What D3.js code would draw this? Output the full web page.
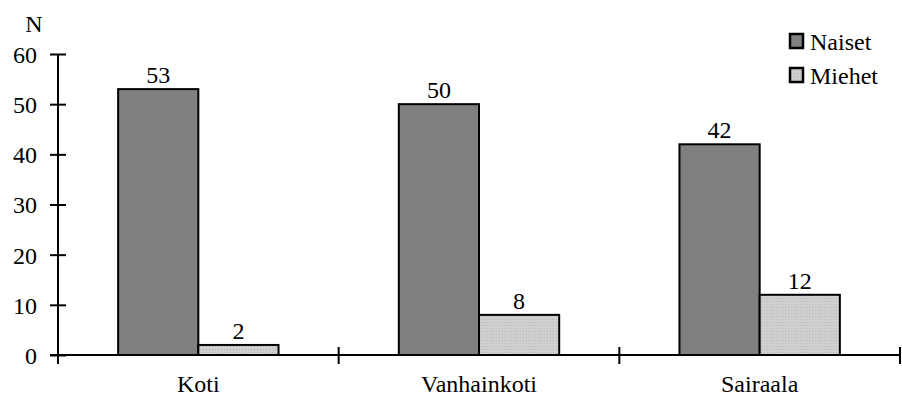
<!DOCTYPE html>
<html>
<head>
<meta charset="utf-8">
<script src="https://cdn.jsdelivr.net/npm/d3@7"></script>
<style>
  html, body { margin: 0; padding: 0; background: #fff; }
  svg { display: block; }
</style>
</head>
<body>
<svg id="chart" width="902" height="403"></svg>
<script>
// Place of death by sex
const categories = ["Koti", "Vanhainkoti", "Sairaala"];
const seriesNames = ["Naiset", "Miehet"];
const naiset = [53, 50, 42];
const miehet = [2, 8, 12];
const yTicks = [0, 10, 20, 30, 40, 50, 60];

(function () {
const FONT = "Liberation Serif";
const FS = "24px";
const svg = d3.select("#chart");
const mLeft = 58, mRight = 900, mTop = 54, mBottom = 355;

// Miehet fill: light grey with a fine dotted texture
const defs = svg.append("defs");
const pat = defs.append("pattern").attr("id", "dots").attr("width", 3).attr("height", 3)
  .attr("patternUnits", "userSpaceOnUse");
pat.append("rect").attr("width", 3).attr("height", 3).attr("fill", "#d0d0d0");
pat.append("rect").attr("x", 1).attr("y", 1).attr("width", 1).attr("height", 1).attr("fill", "#b4b4b4");

const colors = ["#808080", "url(#dots)"];

const x = d3.scaleBand().domain(categories).range([mLeft, mRight]).paddingInner(0).paddingOuter(0);
const xs = d3.scaleBand().domain(seriesNames).range([0, x.bandwidth()]).paddingInner(0).paddingOuter(0.75);
const y = d3.scaleLinear().domain([0, 60]).range([mBottom, mTop]);

const data = categories.map((c, i) => ({ cat: c, values: [naiset[i], miehet[i]] }));

// Bars
const groups = svg.append("g").selectAll("g").data(data).join("g")
  .attr("transform", d => `translate(${x(d.cat)},0)`);
groups.selectAll("rect").data(d => d.values.map((v, j) => ({ v, s: seriesNames[j], j })))
  .join("rect")
  .attr("x", d => xs(d.s))
  .attr("y", d => y(d.v))
  .attr("width", xs.bandwidth())
  .attr("height", d => y(0) - y(d.v))
  .attr("fill", d => colors[d.j])
  .attr("stroke", "#000")
  .attr("stroke-width", 2);

// Value labels
groups.selectAll("text").data(d => d.values.map((v, j) => ({ v, s: seriesNames[j] })))
  .join("text")
  .attr("x", d => xs(d.s) + xs.bandwidth() / 2)
  .attr("y", d => y(d.v) - 6)
  .attr("text-anchor", "middle")
  .style("font-family", FONT).style("font-size", FS)
  .text(d => d.v);

// Y axis: ticks cross the axis line
const yAxis = d3.axisLeft(y).tickValues(yTicks).tickSize(0).tickPadding(0);
const gy = svg.append("g").attr("transform", `translate(${mLeft},0)`).call(yAxis);
gy.select(".domain").remove();
gy.selectAll(".tick text")
  .style("font-family", FONT).style("font-size", FS)
  .attr("x", -21).attr("dy", "0.35em").attr("fill", "#000");
gy.selectAll(".tick").append("line").attr("x1", -8).attr("x2", 8).attr("stroke", "#000").attr("stroke-width", 2);
svg.append("line").attr("x1", mLeft).attr("x2", mLeft).attr("y1", mTop).attr("y2", mBottom + 9)
  .attr("stroke", "#000").attr("stroke-width", 2);

// X axis: category boundary ticks crossing the baseline
svg.append("line").attr("x1", mLeft - 8).attr("x2", mRight).attr("y1", mBottom).attr("y2", mBottom)
  .attr("stroke", "#000").attr("stroke-width", 2);
const bounds = categories.slice(1).map(c => x(c)).concat([mRight]);
svg.append("g").selectAll("line").data(bounds).join("line")
  .attr("x1", d => d).attr("x2", d => d).attr("y1", mBottom - 8).attr("y2", mBottom + 9)
  .attr("stroke", "#000").attr("stroke-width", 2);
svg.append("g").selectAll("text").data(categories).join("text")
  .attr("x", d => x(d) + x.bandwidth() / 2)
  .attr("y", 392)
  .attr("text-anchor", "middle")
  .style("font-family", FONT).style("font-size", FS)
  .text(d => d);

// Axis title
svg.append("text").attr("x", 34).attr("y", 32).attr("text-anchor", "middle")
  .style("font-family", FONT).style("font-size", FS).text("N");

// Legend
const legend = svg.append("g").selectAll("g").data(seriesNames).join("g")
  .attr("transform", (d, i) => `translate(796,${50 + i * 34})`);
legend.append("rect").attr("x", -6).attr("y", -16).attr("width", 13).attr("height", 14)
  .attr("fill", (d, i) => colors[i]).attr("stroke", "#000").attr("stroke-width", 2.5);
legend.append("text").attr("x", 14).attr("y", 0)
  .style("font-family", FONT).style("font-size", FS).text(d => d);
})();
</script>
</body>
</html>
